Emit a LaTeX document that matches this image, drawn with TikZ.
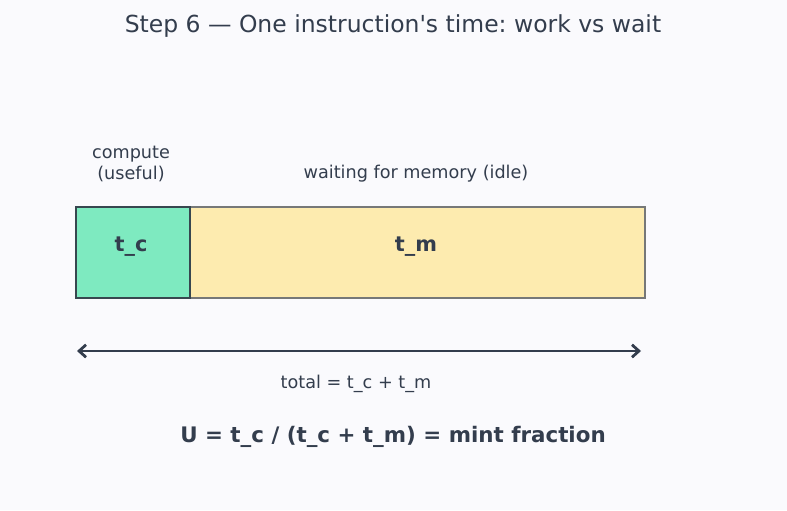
\documentclass[tikz,border=0pt]{standalone}
\usepackage{fontspec}
\setmainfont{DejaVu Sans}
\usetikzlibrary{arrows.meta}
\definecolor{ink}{HTML}{333D4D}
\definecolor{bgpage}{HTML}{FAFAFD}
\definecolor{mintfill}{HTML}{7EEAC0}
\definecolor{mintline}{HTML}{37474F}
\definecolor{waitfill}{HTML}{FDEBAF}
\definecolor{waitline}{HTML}{767878}
\frenchspacing

\begin{document}
\begin{tikzpicture}
    [
    x=0.72pt, y=-0.72pt
    , seg/.style = {draw, line width=1.5pt, inner sep=0pt, anchor=north west}
    , lbl/.style = {text=ink, font=\fontsize{12.7}{15}\selectfont, align=center, inner sep=0pt}
    , big/.style = {text=ink, font=\fontsize{15}{18}\selectfont\bfseries, inner sep=0pt}
    ]
\fill[bgpage] (0,0) rectangle (787,510);
\useasboundingbox (0,0) rectangle (787,510);

\node[text=ink, font=\fontsize{16.9}{20}\selectfont, inner sep=0pt] (title) at (393,26) {Step 6 — One instruction\textquotesingle s time: work vs wait};

% the two parts of one instruction
\node[seg, fill=waitfill, draw=waitline, minimum width=455*0.72pt, minimum height=91*0.72pt] (wait) at (189,206) {};
\node[seg, fill=mintfill, draw=mintline, minimum width=114*0.72pt, minimum height=91*0.72pt] (comp) at (75,206) {};

\node[big] (tc) at (131,247) {t\_c};
\node[big] (tm) at (416,247) {t\_m};

\node[lbl] (complbl) at (131,164) {compute\\(useful)};
\node[lbl] (waitlbl) at (416,174) {waiting for memory (idle)};

% total span
\coordinate (left) at (77,351);
\coordinate (right) at (641,351);
\draw[ink, line width=2pt, {Straight Barb[length=5pt,width=9pt]}-{Straight Barb[length=5pt,width=9pt]}] (left) -- (right);
\node[lbl] (total) at (356,384) {total = t\_c + t\_m};

\node[text=ink, font=\fontsize{15.4}{18}\selectfont\bfseries, inner sep=0pt] (util) at (393,437) {U = t\_c / (t\_c + t\_m) = mint fraction};
\end{tikzpicture}
\end{document}
